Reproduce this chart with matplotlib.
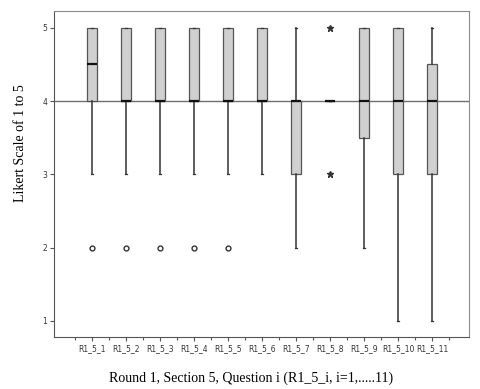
import matplotlib
matplotlib.use("Agg")
import matplotlib.pyplot as plt

# Item names and box statistics
labels = ["R1_5_1", "R1_5_2", "R1_5_3", "R1_5_4", "R1_5_5", "R1_5_6",
          "R1_5_7", "R1_5_8", "R1_5_9", "R1_5_10", "R1_5_11"]
q1 =      [4, 4, 4, 4, 4, 4, 3, 4, 3.5, 3, 3]
medians = [4.5, 4, 4, 4, 4, 4, 4, 4, 4, 4, 4]
q3 =      [5, 5, 5, 5, 5, 5, 4, 4, 5, 5, 4.5]
wlo =     [3, 3, 3, 3, 3, 3, 2, 4, 2, 1, 1]
whi =     [5, 5, 5, 5, 5, 5, 5, 4, 5, 5, 5]
outliers = [[2], [2], [2], [2], [2], [], [], [5, 3], [], [], []]
extreme_items = [7]  # index of items whose outliers are drawn as stars

stats = []
for i in range(len(labels)):
    stats.append(dict(label=labels[i], q1=q1[i], med=medians[i], q3=q3[i],
                      whislo=wlo[i], whishi=whi[i], fliers=outliers[i]))

fig = plt.figure(figsize=(4.81, 3.89), dpi=100)
ax = fig.add_axes([0.1123, 0.1337, 0.8627, 0.838])

# reference line at 4
ax.axhline(4, color="#707070", lw=1.0, zorder=1)

positions = list(range(1, len(labels) + 1))
bp = ax.bxp(stats, positions=positions, widths=0.27, patch_artist=True,
            capwidths=0.08,
            boxprops=dict(facecolor="#d0d0d0", edgecolor="#555555", lw=0.9),
            medianprops=dict(color="#111111", lw=1.6),
            whiskerprops=dict(color="#333333", lw=1.1),
            capprops=dict(color="#333333", lw=0.9),
            flierprops=dict(marker="o", markersize=3.5, markerfacecolor="none",
                            markeredgecolor="#333333", markeredgewidth=1.0))
for k in extreme_items:
    fl = bp["fliers"][k]
    fl.set_marker("*")
    fl.set_markerfacecolor("#333333")
    fl.set_markersize(5)
for b in bp["boxes"]:
    b.set_zorder(2)

ax.set_xlim(-0.12, 12.09)
ax.set_ylim(0.78, 5.23)
ax.set_yticks([1, 2, 3, 4, 5])
ax.set_yticklabels(["1", "2", "3", "4", "5"])
ax.set_xticks(positions)
ax.set_xticklabels(labels)
ax.set_xticks([p - 0.5 for p in positions] + [positions[-1] + 0.5], minor=True)
ax.tick_params(axis="both", which="major", labelsize=5.5, labelcolor="#333333",
               color="#555555", length=3, width=0.8, pad=2)
ax.tick_params(axis="x", which="minor", length=2.5, width=0.8, color="#555555")

for side in ["top", "right"]:
    ax.spines[side].set_color("#8a8a8a")
for side in ["left", "bottom"]:
    ax.spines[side].set_color("#555555")

fig.text(0.043, 1 - 143 / 389, "Likert Scale of 1 to 5", rotation=90,
         ha="center", va="center", family="Liberation Serif", fontsize=10)
fig.text(251 / 481, 1 - 378 / 389, "Round 1, Section 5, Question i (R1_5_i, i=1,.....11)",
         ha="center", va="center", family="Liberation Serif", fontsize=10)

fig.savefig("out.png", dpi=100)
